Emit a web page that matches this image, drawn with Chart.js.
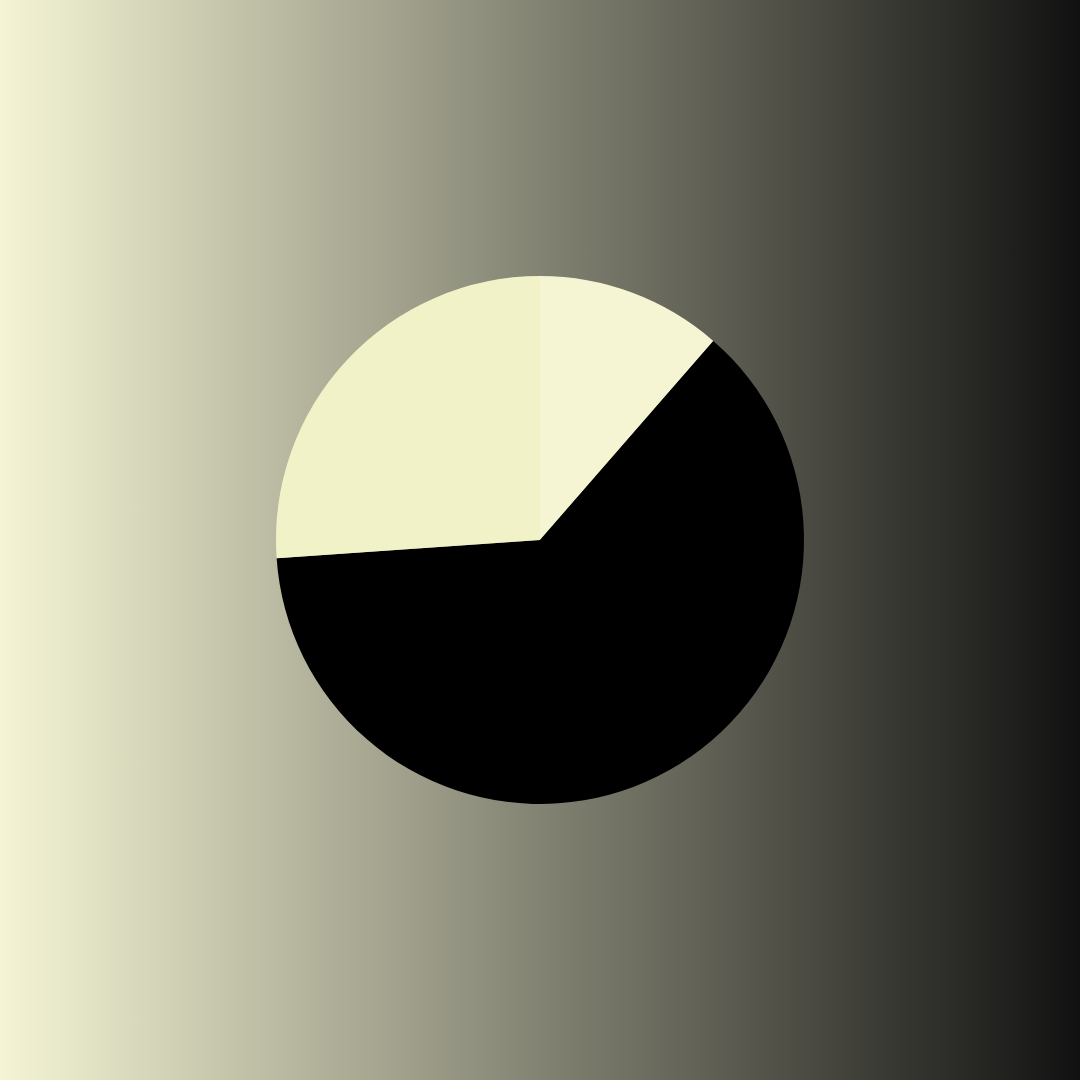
<!DOCTYPE html>
<html>
<head>
<meta charset="utf-8">
<script src="https://cdn.jsdelivr.net/npm/chart.js@4"></script>
<style>
html,body{margin:0;padding:0;width:1080px;height:1080px;overflow:hidden;}
body{background:linear-gradient(to right,#F5F5D5 0%,#111111 100%);}
#wrap{width:1080px;height:1080px;position:relative;}
</style>
</head>
<body>
<div id="wrap"><canvas id="c" width="1080" height="1080"></canvas></div>
<script>
const categories = ["A", "B", "C"];
const values = [11.4, 62.5, 26.1];
const colors = ["#F5F5D4", "#000000", "#F2F2C8"];

new Chart(document.getElementById('c'), {
  type: 'pie',
  data: {
    labels: categories,
    datasets: [{
      data: values,
      backgroundColor: colors,
      borderWidth: 0
    }]
  },
  options: {
    responsive: false,
    animation: false,
    layout: { padding: 276 },
    plugins: {
      legend: { display: false },
      tooltip: { enabled: false }
    }
  }
});
</script>
</body>
</html>
